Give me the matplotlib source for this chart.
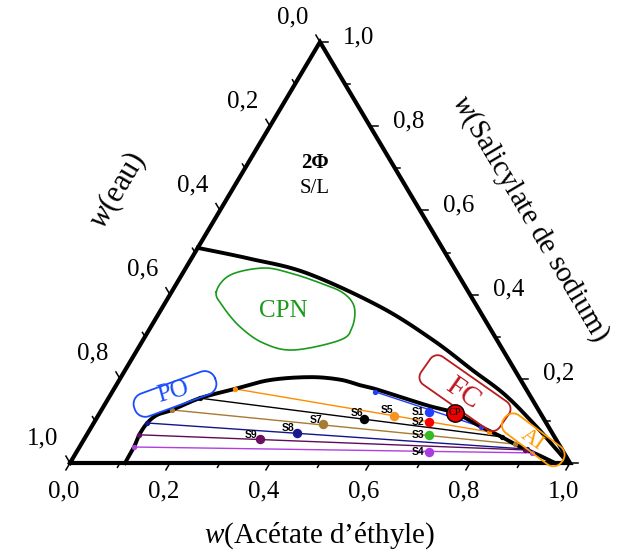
import numpy as np
import matplotlib
matplotlib.use('Agg')
import matplotlib.pyplot as plt

plt.rcParams['font.family'] = ['Liberation Serif', 'DejaVu Serif']
plt.rcParams['mathtext.fontset'] = 'custom'
plt.rcParams['mathtext.rm'] = 'Liberation Serif'
plt.rcParams['mathtext.it'] = 'Liberation Serif:italic'

# ---------------- data (mass fractions: acetate, salicylate) ----------------
tick_values = [0.0, 0.2, 0.4, 0.6, 0.8, 1.0]
tick_labels = ['0,0', '0,2', '0,4', '0,6', '0,8', '1,0']

salt_curve_A = [0.000, 0.118, 0.248, 0.435, 0.580, 0.694, 0.789, 0.885, 0.952, 0.996]
salt_curve_S = [0.511, 0.485, 0.451, 0.371, 0.292, 0.221, 0.162, 0.090, 0.036, 0.000]

binodal_A = [0.110, 0.109, 0.105, 0.107, 0.117, 0.141, 0.183, 0.242, 0.301, 0.378,
             0.441, 0.487, 0.522, 0.582, 0.652, 0.711, 0.779, 0.828, 0.867, 0.899, 0.932, 0.970]
binodal_S = [0.000, 0.038, 0.067, 0.095, 0.114, 0.126, 0.154, 0.176, 0.197, 0.204,
             0.198, 0.185, 0.176, 0.157, 0.135, 0.119, 0.086, 0.064, 0.045, 0.031, 0.017, 0.000]

tie_colors = ['#1f3cff', '#ff8c00', '#000000', '#a87a32', '#14148c', '#5e0c58', '#b03ee0']
tie_left_A = [0.526, 0.242, 0.183, 0.141, 0.107, 0.105, 0.109]
tie_left_S = [0.169, 0.176, 0.154, 0.126, 0.095, 0.067, 0.038]
tie_right_A = [0.779, 0.801, 0.833, 0.867, 0.897, 0.895, 0.912]
tie_right_S = [0.086, 0.074, 0.062, 0.045, 0.033, 0.031, 0.024]

sample_names = ['S1', 'S2', 'S3', 'S4', 'S5', 'S6', 'S7', 'S8', 'S9']
sample_A = [0.657, 0.669, 0.685, 0.705, 0.592, 0.536, 0.460, 0.418, 0.352]
sample_S = [0.121, 0.097, 0.067, 0.026, 0.112, 0.105, 0.093, 0.071, 0.057]
sample_colors = ['#2140ff', '#ff0000', '#33bb22', '#a83ee0', '#f7931e',
                 '#000000', '#a67c35', '#1a1a8c', '#6b1060']

cp_A, cp_S = 0.711, 0.119

H = 421.0 / 500.0  # vertical scale of the triangle


def tern(A, S):
    A = np.asarray(A, float)
    S = np.asarray(S, float)
    return A + S / 2.0, S * H


def smooth_open(x, y, n=12):
    P = np.column_stack([x, y])
    P = np.vstack([P[0], P, P[-1]])
    out = []
    for i in range(1, len(P) - 2):
        p0, p1, p2, p3 = P[i - 1], P[i], P[i + 1], P[i + 2]
        for t in np.linspace(0, 1, n, endpoint=False):
            t2, t3 = t * t, t * t * t
            out.append(0.5 * (2 * p1 + (-p0 + p2) * t + (2 * p0 - 5 * p1 + 4 * p2 - p3) * t2
                              + (-p0 + 3 * p1 - 3 * p2 + p3) * t3))
    out.append(P[-2])
    out = np.array(out)
    return out[:, 0], out[:, 1]


PX = 1.0 / 500.0  # one pixel in data units

fig = plt.figure(figsize=(6.2, 5.53), dpi=100)
ax = fig.add_axes([0, 0, 1, 1])
ax.set_xlim(-0.14, 1.10)
ax.set_ylim(-0.18, 0.926)
ax.set_aspect('equal')
ax.axis('off')

# ---------------- triangle frame ----------------
vx, vy = tern([0, 1, 0, 0], [0, 0, 1, 0])
ax.plot(vx, vy, color='black', lw=3.0, solid_joinstyle='miter', zorder=5)

# ticks
bdir = np.array([-0.5, -H]); bdir /= np.linalg.norm(bdir)
ldir = np.array([-0.5, H]); ldir /= np.linalg.norm(ldir)
rdir = np.array([1.0, 0.0])
for i in range(11):
    t = i / 10.0
    L = (8 if i % 2 == 0 else 5) * PX
    x0, y0 = tern(t, 0)
    ax.plot([x0, x0 + L * bdir[0]], [y0, y0 + L * bdir[1]], color='black', lw=1.1, zorder=5)
    x0, y0 = tern(1 - t, t)
    ax.plot([x0, x0 + L * rdir[0]], [y0, y0 + L * rdir[1]], color='black', lw=1.1, zorder=5)
    x0, y0 = tern(0, 1 - t)
    ax.plot([x0, x0 + L * ldir[0]], [y0, y0 + L * ldir[1]], color='black', lw=1.1, zorder=5)

for t, lab in zip(tick_values, tick_labels):
    x0, y0 = tern(t, 0)
    ax.text(x0 - 6 * PX, y0 - 28 * PX, lab, fontsize=18, ha='center', va='center')
    if t > 0:
        x0, y0 = tern(1 - t, t)
        ax.text(x0 + 39 * PX, y0 + 5 * PX, lab, fontsize=18, ha='center', va='center')
    x0, y0 = tern(0, 1 - t)
    ax.text(x0 - 27 * PX, y0 + 25 * PX, lab, fontsize=18, ha='center', va='center')

ang = np.degrees(np.arctan2(H, 0.5))
ax.text(0.5, (463 - 536) * PX, "$w$(Acétate d’éthyle)", fontsize=21, ha='center', va='center')
ax.text((118 - 70) * PX, (463 - 191) * PX, "$w$(eau)", fontsize=22, ha='center', va='center',
        rotation=ang, rotation_mode='anchor')
ax.text((530 - 70) * PX, (463 - 219) * PX, "$w$(Salicylate de sodium)", fontsize=21,
        ha='center', va='center', rotation=-ang, rotation_mode='anchor')

# ---------------- curves ----------------
x, y = smooth_open(*tern(salt_curve_A, salt_curve_S))
ax.plot(x, y, color='black', lw=2.8, zorder=4)
x, y = smooth_open(*tern(binodal_A, binodal_S))
ax.plot(x, y, color='black', lw=2.8, zorder=4)

for c, la, ls, ra, rs in zip(tie_colors, tie_left_A, tie_left_S, tie_right_A, tie_right_S):
    x, y = tern([la, ra], [ls, rs])
    ax.plot(x, y, color=c, lw=1.0, zorder=3)
    ax.plot(x, y, 'o', color=c, ms=3.8, mec='none', zorder=6)

label_off = {'S1': (-11, 0), 'S2': (-11, 0), 'S3': (-11, 0), 'S4': (-11, 0),
             'S5': (-7, 6), 'S6': (-7, 6), 'S7': (-7, 4), 'S8': (-9, 5), 'S9': (-9, 4)}
for n, a, s, c in zip(sample_names, sample_A, sample_S, sample_colors):
    x0, y0 = tern(a, s)
    ax.plot(x0, y0, 'o', color=c, ms=6.8, mec='none', zorder=7)
    dx, dy = label_off[n]
    ax.text(x0 + dx * PX, y0 + dy * PX, n, fontsize=7.5, fontweight='bold',
            family='Liberation Sans', ha='center', va='center', zorder=8)

x0, y0 = tern(cp_A, cp_S)
ax.plot(x0, y0, 'o', color='#ee0000', ms=12.5, mec='black', mew=1.0, zorder=9)
ax.text(x0, y0, 'CP', fontsize=7.5, ha='center', va='center', zorder=10)

# ---------------- annotations ----------------
def rbox(cA, cS, length, width, angle, radius, color, lw=1.3):
    hx, hy = length / 2 - radius, width / 2 - radius
    pts = []
    for (ccx, ccy, a0) in [(hx, hy, 0), (-hx, hy, 90), (-hx, -hy, 180), (hx, -hy, 270)]:
        th = np.radians(np.linspace(a0, a0 + 90, 12))
        pts += list(zip(ccx + radius * np.cos(th), ccy + radius * np.sin(th)))
    pts.append(pts[0])
    pts = np.array(pts)
    r = np.radians(angle)
    R = np.array([[np.cos(r), -np.sin(r)], [np.sin(r), np.cos(r)]])
    pts = pts @ R.T * PX
    cx, cy = tern(cA, cS)
    ax.plot(cx + pts[:, 0], cy + pts[:, 1], color=color, lw=lw, zorder=6)


def closed_spline(pts, n=20):
    P = np.array(pts, float)
    N = len(P)
    out = []
    for i in range(N):
        p0, p1, p2, p3 = P[i - 1], P[i], P[(i + 1) % N], P[(i + 2) % N]
        for t in np.linspace(0, 1, n, endpoint=False):
            t2, t3 = t * t, t * t * t
            out.append(0.5 * (2 * p1 + (-p0 + p2) * t + (2 * p0 - 5 * p1 + 4 * p2 - p3) * t2
                              + (-p0 + 3 * p1 - 3 * p2 + p3) * t3))
    out.append(out[0])
    return np.array(out)


# PO
rbox(0.128, 0.164, 86, 24, 20, 11, '#1a4cff')
x0, y0 = tern(0.122, 0.169)
ax.text(x0, y0, 'PO', fontsize=18, color='#1a4cff', rotation=15, ha='center', va='center', zorder=7)

# FC
rbox(0.707, 0.166, 96, 34, -35, 9, '#b81c1c')
x0, y0 = tern(0.703, 0.166)
ax.text(x0, y0, 'FC', fontsize=21, color='#c0171d', rotation=-35, ha='center', va='center', zorder=7)

# AI
rbox(0.899, 0.055, 72, 22, -37, 10, '#ff9a00')
x0, y0 = tern(0.897, 0.055)
ax.text(x0, y0, 'AI', fontsize=16, color='#ff9a00', rotation=-35, ha='center', va='center', zorder=7)

# CPN
cpn_shape = [(-67, -19), (-53, -36), (-20, -43), (7, -38), (37, -28), (60, -18), (71, -4),
             (69, 16), (57, 29), (10, 39), (-20, 32), (-43, 16), (-60, -4)]
cx, cy = tern(0.246, 0.361)
sp = closed_spline([(dx * PX, -dy * PX) for dx, dy in cpn_shape])
ax.plot(cx + sp[:, 0], cy + sp[:, 1], color='#1a9a1a', lw=1.2, zorder=6)
ax.text(cx, cy, 'CPN', fontsize=18, color='#1a9a1a', ha='center', va='center', zorder=7)

# 2 phase label
x0, y0 = tern(0.134, 0.713)
ax.text(x0, y0, '2Φ', fontsize=15, fontweight='bold', ha='center', va='center')
x0, y0 = tern(0.163, 0.653)
ax.text(x0, y0, 'S/L', fontsize=15, ha='center', va='center')

fig.savefig('out.png', dpi=100)
